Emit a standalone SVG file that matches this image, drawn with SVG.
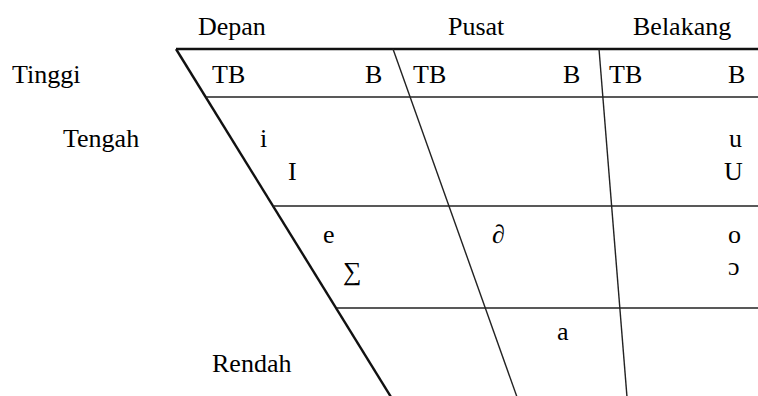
<svg xmlns="http://www.w3.org/2000/svg" width="758" height="396" viewBox="0 0 758 396">
<rect width="758" height="396" fill="#fff"/>
<g id="connectors" fill="none">
<line stroke="#111" stroke-width="2.4" x1="176" y1="49" x2="758" y2="49"/>
<line stroke="#111" stroke-width="2.4" x1="176" y1="49" x2="391" y2="397"/>
<line stroke="#222" stroke-width="1.4" x1="206" y1="97" x2="758" y2="97"/>
<line stroke="#222" stroke-width="1.4" x1="273" y1="206" x2="758" y2="206"/>
<line stroke="#222" stroke-width="1.4" x1="337" y1="308" x2="758" y2="308"/>
<line stroke="#222" stroke-width="1.4" x1="393" y1="49" x2="517" y2="397"/>
<line stroke="#222" stroke-width="1.4" x1="599" y1="49" x2="627" y2="397"/>
</g>
<g id="headers">
<text font-family="Liberation Serif" font-size="26" x="198" y="35">Depan</text>
<text font-family="Liberation Serif" font-size="26" x="448" y="35">Pusat</text>
<text font-family="Liberation Serif" font-size="26" x="633" y="35">Belakang</text>
</g>
<g id="rows">
<text font-family="Liberation Serif" font-size="26" x="12" y="83">Tinggi</text>
<text font-family="Liberation Serif" font-size="26" x="63" y="147">Tengah</text>
<text font-family="Liberation Serif" font-size="26" x="212" y="372">Rendah</text>
</g>
<g id="subheaders">
<text font-family="Liberation Serif" font-size="26" x="212" y="83">TB</text>
<text font-family="Liberation Serif" font-size="26" x="365" y="83">B</text>
<text font-family="Liberation Serif" font-size="26" x="413" y="83">TB</text>
<text font-family="Liberation Serif" font-size="26" x="563" y="83">B</text>
<text font-family="Liberation Serif" font-size="26" x="609" y="83">TB</text>
<text font-family="Liberation Serif" font-size="26" x="728" y="83">B</text>
</g>
<g id="vowels">
<text font-family="Liberation Serif" font-size="26" x="260" y="147">i</text>
<text font-family="Liberation Serif" font-size="26" x="288" y="180">I</text>
<text font-family="Liberation Serif" font-size="26" x="729" y="147">u</text>
<text font-family="Liberation Serif" font-size="26" x="724" y="180">U</text>
<text font-family="Liberation Serif" font-size="26" x="323" y="243">e</text>
<text font-family="Liberation Serif" font-size="26" x="343" y="280">∑</text>
<text font-family="Liberation Serif" font-size="26" x="492" y="243">∂</text>
<text font-family="Liberation Serif" font-size="26" x="728" y="243">o</text>
<text font-family="Liberation Serif" font-size="26" x="728" y="275">ɔ</text>
<text font-family="Liberation Serif" font-size="26" x="557" y="340">a</text>
</g>
</svg>
